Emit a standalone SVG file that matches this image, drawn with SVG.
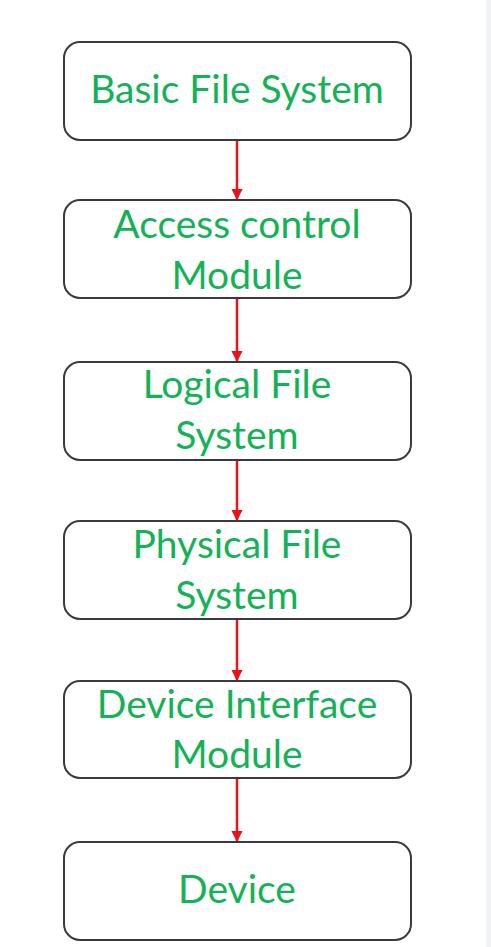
<svg xmlns="http://www.w3.org/2000/svg" width="491" height="947" viewBox="0 0 491 947">
<style>
.box{fill:#fff;stroke:#3a3a3a;stroke-width:2}
.t{font-family:Lato,"Open Sans","Liberation Sans",sans-serif;font-size:39px;fill:#14b256;text-anchor:middle}
.c{stroke:#e8141b;stroke-width:2.5;fill:none}
</style>
<defs>
<marker id="ah" viewBox="0 0 10 10" refX="9" refY="5" markerWidth="4.5" markerHeight="4.5" orient="auto" markerUnits="strokeWidth">
<path d="M0,0 L10,5 L0,10 Z" fill="#e8141b"/>
</marker>
</defs>
<rect x="0" y="0" width="491" height="947" fill="#fff"/>
<rect x="486" y="0" width="5" height="947" fill="#f1f2f4"/>
<g id="connectors">
<line class="c" x1="237" y1="140" x2="237" y2="199" marker-end="url(#ah)"/>
<line class="c" x1="237" y1="298" x2="237" y2="361" marker-end="url(#ah)"/>
<line class="c" x1="237" y1="460" x2="237" y2="520" marker-end="url(#ah)"/>
<line class="c" x1="237" y1="619" x2="237" y2="680" marker-end="url(#ah)"/>
<line class="c" x1="237" y1="778" x2="237" y2="841" marker-end="url(#ah)"/>
</g>
<g id="n1"><rect class="box" x="64" y="42" width="347" height="98" rx="16"/><text class="t" x="237" y="103">Basic File System</text></g>
<g id="n2"><rect class="box" x="64" y="200" width="347" height="98" rx="16"/><text class="t" x="237" y="238">Access control</text><text class="t" x="237" y="289">Module</text></g>
<g id="n3"><rect class="box" x="64" y="362" width="347" height="98" rx="16"/><text class="t" x="237" y="398">Logical File</text><text class="t" x="237" y="449">System</text></g>
<g id="n4"><rect class="box" x="64" y="521" width="347" height="98" rx="16"/><text class="t" x="237" y="558">Physical File</text><text class="t" x="237" y="609">System</text></g>
<g id="n5"><rect class="box" x="64" y="681" width="347" height="97" rx="16"/><text class="t" x="237" y="718">Device Interface</text><text class="t" x="237" y="768">Module</text></g>
<g id="n6"><rect class="box" x="64" y="842" width="347" height="98" rx="16"/><text class="t" x="237" y="903">Device</text></g>
</svg>
